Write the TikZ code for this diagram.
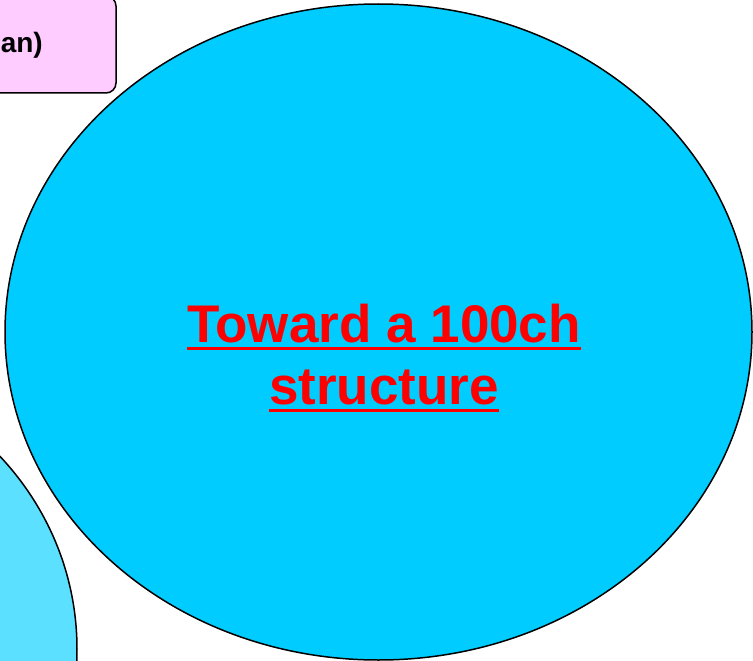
\documentclass[tikz,border=0pt]{standalone}
\usepackage{fontspec}
\setmainfont{Liberation Sans}
\usetikzlibrary{shapes.geometric}
\definecolor{sky}{RGB}{0,204,255}
\definecolor{lightsky}{RGB}{92,224,255}
\definecolor{lilac}{RGB}{255,204,255}
\definecolor{alert}{RGB}{255,0,0}
\newsavebox{\linebox}
\newcommand{\redline}[1]{\sbox{\linebox}{#1}\rlap{\vrule width\wd\linebox height -4.3pt depth 7.8pt}\usebox{\linebox}}
\tikzset{
  blob/.style={ellipse,draw=black,line width=1.5pt,fill=#1,inner sep=0pt},
  blob/.default=sky,
  panel/.style={draw=black,line width=1.5pt,fill=lilac,rounded corners=10pt},
  headline/.style={font=\bfseries\fontsize{53}{62}\selectfont,text=alert,align=center,inner sep=0pt},
  boxtext/.style={font=\bfseries\fontsize{28}{32}\selectfont,text=black,inner sep=0pt},
}
\begin{document}
\begin{tikzpicture}[x=1pt,y=-1pt]
  \useasboundingbox (0,0) rectangle (753,661);
  \clip (0,0) rectangle (753,661);
  % box cut off at the top left
  \draw[panel] (-260,-4) rectangle (116,93);
  \node[boxtext,anchor=base east] (boxlabel) at (43,53) {an)};
  % second circle, cut off at the bottom left
  \node[blob=lightsky,minimum width=600pt,minimum height=576pt] (side) at (-223,649) {};
  % main circle
  \node[blob,minimum width=747pt,minimum height=656pt] (main) at (378.5,332) {};
  \node[headline] (title) at (384,358) {\redline{Toward a 100ch}\\\redline{structure}};
\end{tikzpicture}
\end{document}
